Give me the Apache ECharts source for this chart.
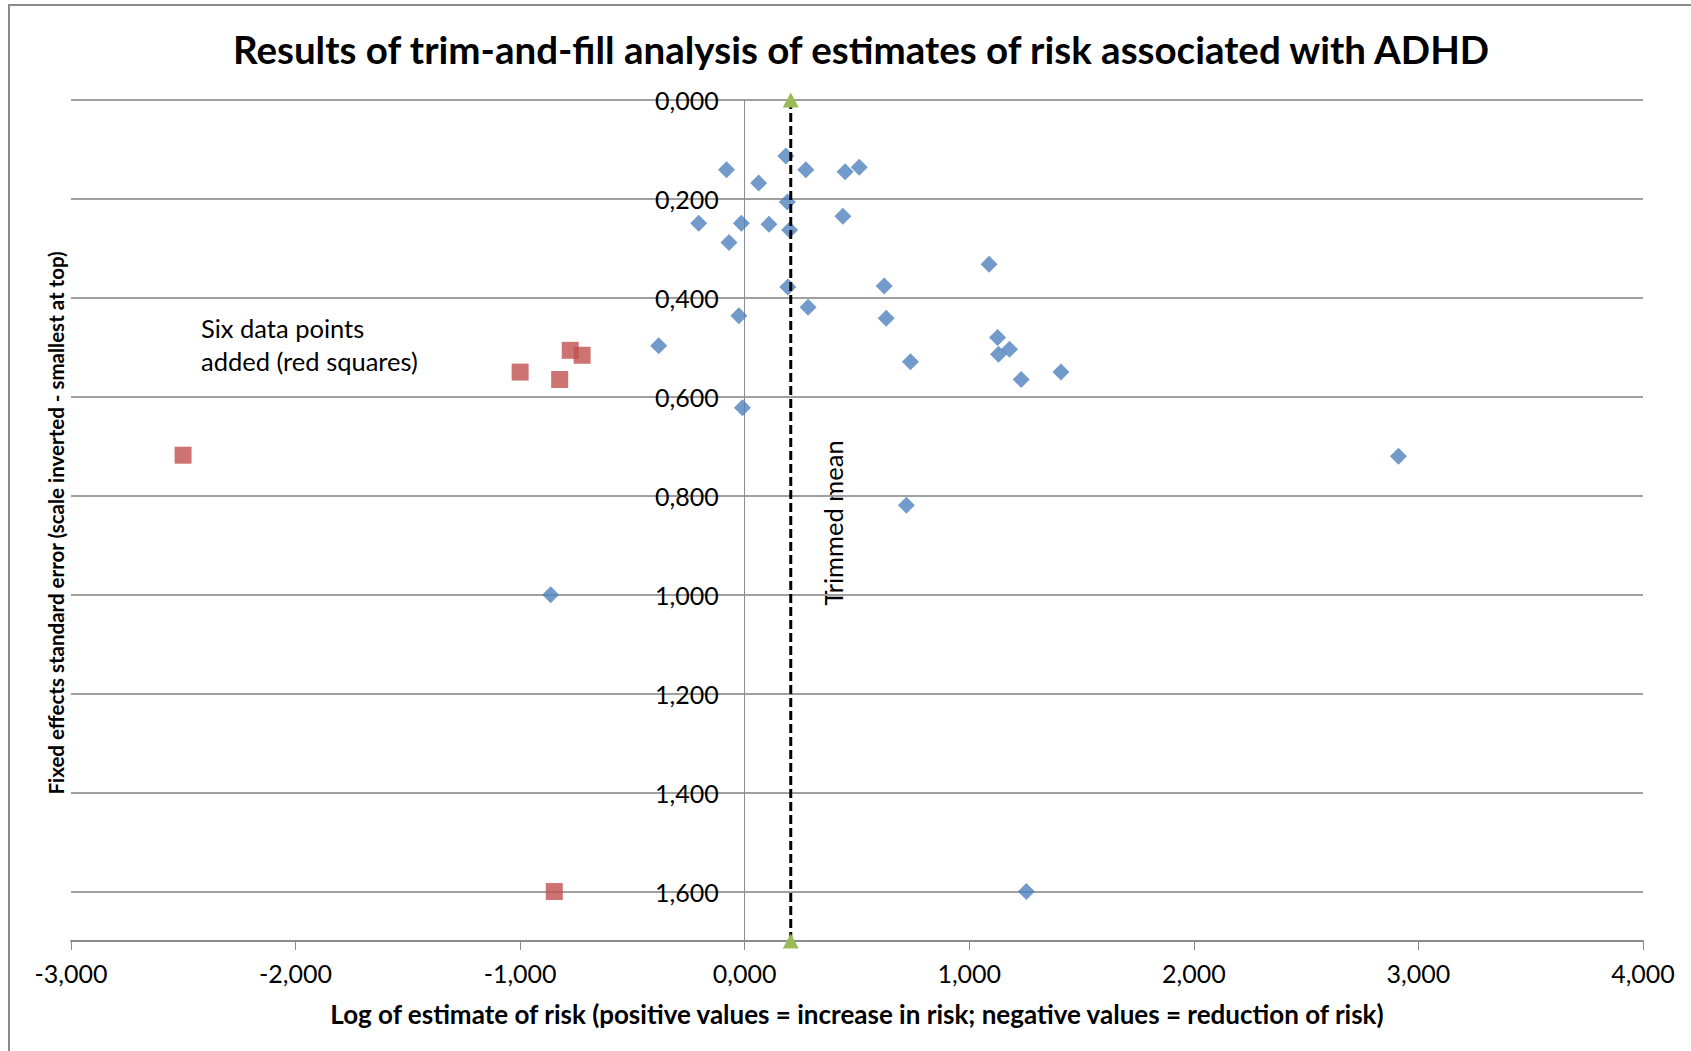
<!DOCTYPE html>
<html><head><meta charset="utf-8">
<script src="https://cdn.jsdelivr.net/npm/echarts@6/dist/echarts.min.js"></script>
<style>html,body{margin:0;padding:0;background:#fff}#c{width:1691px;height:1051px}</style>
</head><body><div id="c"></div>
<script>
const titleText = 'Results of trim-and-fill analysis of estimates of risk associated with ADHD';
const xAxisName = 'Log of estimate of risk (positive values = increase in risk; negative values = reduction of risk)';
const yAxisName = 'Fixed effects standard error (scale inverted - smallest at top)';
const annotationText = 'Six data points\nadded (red squares)';
const trimmedMeanText = 'Trimmed mean';

// x = log estimate of risk, y = fixed effects standard error
const observedPoints = [
  [0.183,0.113],[-0.081,0.141],[0.272,0.141],[0.447,0.145],[0.510,0.136],
  [0.062,0.168],[0.190,0.206],[-0.205,0.249],[-0.015,0.249],[0.108,0.251],
  [0.200,0.263],[0.437,0.235],[-0.070,0.288],[1.088,0.332],[0.621,0.376],
  [0.192,0.378],[-0.026,0.436],[0.282,0.419],[0.630,0.441],[-0.383,0.497],
  [1.126,0.480],[1.179,0.504],[1.130,0.514],[0.738,0.529],[1.231,0.565],
  [1.408,0.550],[-0.010,0.622],[2.911,0.720],[0.720,0.819],[-0.864,1.000],
  [1.254,1.600]
];
const filledPoints = [
  [-2.501,0.718],[-0.777,0.506],[-0.724,0.516],[-1.000,0.550],[-0.824,0.565],[-0.848,1.600]
];
const trimmedMeanLine = [[0.205,0.0],[0.205,1.7]];

const xMin = -3, xMax = 4, xStep = 1;
const yMin = 0, yMax = 1.7, yStep = 0.2;

const FONT = 'Lato';
const fmt = v => v.toFixed(3).replace('.', ',');

const chart = echarts.init(document.getElementById('c'), null, {renderer: 'svg'});
chart.setOption({
  backgroundColor: '#fff',
  animation: false,
  title: {
    text: titleText, left: 856, textAlign: 'center', top: 24,
    textStyle: {fontFamily: FONT, fontSize: 38.5, fontWeight: 'bold', color: '#000'}
  },
  grid: {left: 71, right: 48, top: 100, bottom: 110, containLabel: false, outerBoundsMode: 'none'},
  xAxis: {
    type: 'value', min: xMin, max: xMax, interval: xStep,
    name: xAxisName, nameLocation: 'middle', nameGap: 60,
    nameTextStyle: {fontFamily: FONT, fontSize: 26, fontWeight: 'bold', color: '#000'},
    axisLine: {onZero: false, lineStyle: {color: '#8c8c8c', width: 2}},
    axisTick: {show: true, inside: false, length: 9, lineStyle: {color: '#8c8c8c', width: 1}},
    axisLabel: {formatter: fmt, margin: 19, fontFamily: FONT, fontSize: 25, color: '#000'},
    splitLine: {show: false}
  },
  yAxis: {
    type: 'value', inverse: true, min: yMin, max: yMax, interval: yStep,
    axisLine: {onZero: false, lineStyle: {color: '#8c8c8c', width: 1}},
    axisTick: {show: false},
    axisLabel: {
      formatter: v => (Math.abs(v - yMax) < 1e-9 ? '' : fmt(v)),
      margin: 26, fontFamily: FONT, fontSize: 25, color: '#000'
    },
    splitLine: {show: true, lineStyle: {color: '#a0a0a0', width: 2}}
  },
  series: [
    {
      type: 'scatter', name: 'Observed', data: observedPoints,
      symbol: 'diamond', symbolSize: 17,
      itemStyle: {color: '#4F81BD'}, z: 3
    },
    {
      type: 'scatter', name: 'Filled', data: filledPoints,
      symbol: 'rect', symbolSize: 17,
      itemStyle: {color: '#C0504D'}, z: 3
    },
    {
      type: 'line', name: 'Trimmed mean', data: trimmedMeanLine,
      symbol: 'triangle', symbolSize: [16, 15], showSymbol: true,
      lineStyle: {color: '#000', width: 3, type: [9, 4]},
      itemStyle: {color: '#9BBB59'}, z: 4
    }
  ],
  graphic: [
    {type: 'rect', shape: {x: 9, y: 5, width: 1800, height: 1200},
     style: {fill: 'none', stroke: '#8c8c8c', lineWidth: 2}, silent: true, z: -1},
    {type: 'text', x: 56, y: 523, rotation: Math.PI / 2,
     style: {text: yAxisName, fontFamily: FONT, fontSize: 20.5, fontWeight: 'bold', fill: '#000',
             align: 'center', verticalAlign: 'middle'}},
    {type: 'text', x: 201, y: 311,
     style: {text: annotationText, fontFamily: FONT, fontSize: 25.5, lineHeight: 33, fill: '#000',
             align: 'left', verticalAlign: 'top'}},
    {type: 'text', x: 833, y: 523, rotation: Math.PI / 2,
     style: {text: trimmedMeanText, fontFamily: FONT, fontSize: 25.5, fill: '#000',
             align: 'center', verticalAlign: 'middle'}}
  ]
});
// place the vertical axis (line + labels) where x = 0, as in the original chart
const zeroPx = chart.convertToPixel({xAxisIndex: 0}, 0);
const leftPx = chart.convertToPixel({xAxisIndex: 0}, xMin);
chart.setOption({yAxis: {offset: -(zeroPx - leftPx)}});
</script>
</body></html>
